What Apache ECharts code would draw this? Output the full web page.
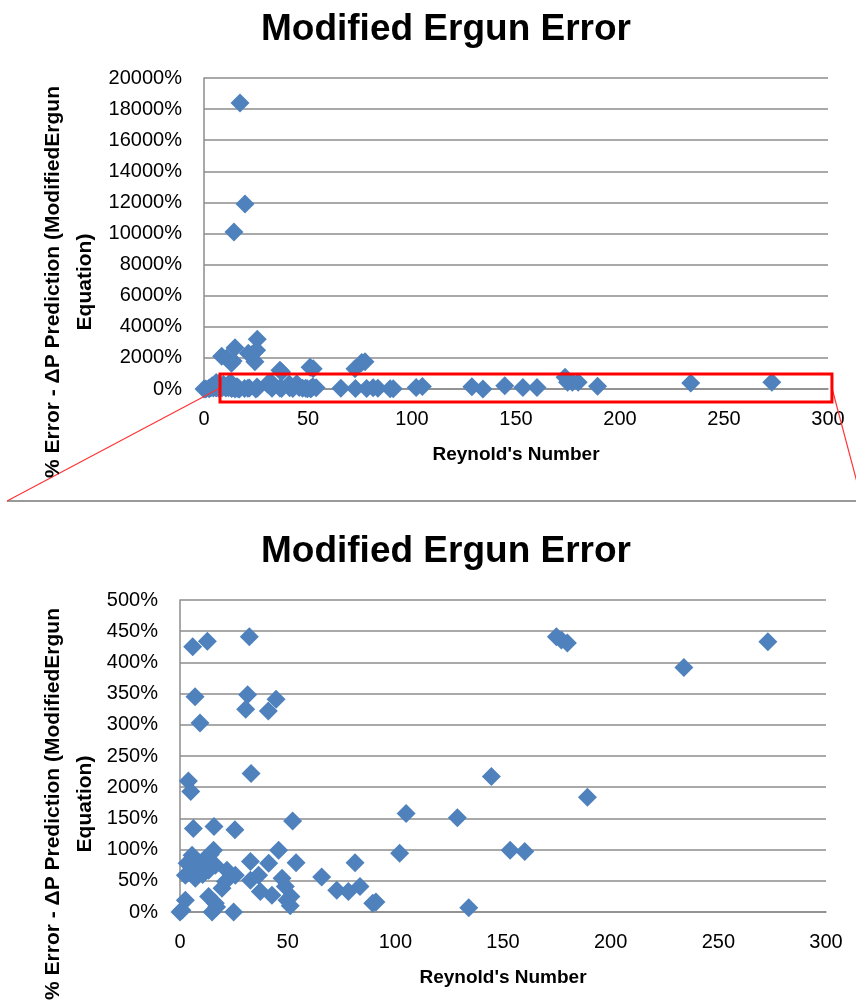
<!DOCTYPE html>
<html>
<head>
<meta charset="utf-8">
<script src="https://cdn.jsdelivr.net/npm/echarts@6/dist/echarts.min.js"></script>
<style>
html,body{margin:0;padding:0;background:#fff;}
#main{width:856px;height:1002px;}
</style>
</head>
<body>
<div id="main"></div>
<script>
// ---- data ----
const chartTitle = "Modified Ergun Error";
const xAxisTitle = "Reynold's Number";
const yAxisTitle = "% Error - \u0394P Prediction (ModifiedErgun\nEquation)";
const xTicks = [0, 50, 100, 150, 200, 250, 300];
const yTicksFull = [0, 2000, 4000, 6000, 8000, 10000, 12000, 14000, 16000, 18000, 20000];
const yTicksZoom = [0, 50, 100, 150, 200, 250, 300, 350, 400, 450, 500];

const reynolds = [
  17.3, 19.7, 14.4, 25.6, 14.9, 8.5, 10.9, 21.3, 25.3, 22.9, 13.2, 14.0, 24.5, 36.5, 37.3, 51.0, 52.5, 72.6, 75.8, 77.4, 173.6,
  5.9, 12.7, 32.2, 7.0, 31.4, 30.5, 44.6, 41.0, 9.3, 33.0, 3.9, 5.0,
  105, 52.3, 6.2, 15.8, 25.5, 102,
  174.8, 177.1, 179.9, 273, 234, 144.6, 189.2, 128.8, 153.3, 160.1, 134.1,
  15.6, 5.6, 3.3, 11.8, 2.5, 7.1, 13.3, 16.4, 8.7, 21.8,
  25.7, 21.1, 19.5, 32.7, 41.2, 45.8, 53.9, 32.7, 36.5, 37.3,
  42.7, 47.4, 48.9, 49.7, 51.2, 51.5, 2.5, 0.9, 0, 13.3,
  16.4, 14.9, 17.0, 24.9, 81.3, 65.8, 72.8, 78.2, 83.6, 89.5,
  91.0, 4.5, 10.5, 14.0, 6.0
];
const errorPct = [
  18400, 11900, 10100, 3200, 2650, 2100, 2000, 2300, 2500, 2200, 1650, 1800, 1750, 1200, 1100, 1400, 1300, 1300, 1700, 1750, 750,
  425, 434, 441, 345, 348, 325, 341, 322, 303, 222, 210, 193,
  158, 146, 134, 137, 132, 94,
  441, 436, 431, 433, 392, 217, 184, 151, 99, 97, 7,
  99, 91, 78, 86, 59, 54, 67, 75, 73, 67,
  59, 49, 38, 81, 78, 99, 79, 51, 59, 33,
  27, 54, 41, 19, 10, 25, 19, 3, 0, 25,
  14, 0, 8, 0, 79, 56, 35, 33, 41, 14,
  16, 65, 60, 92, 83
];
// zoom box drawn on the upper chart (data units)
const zoomBoxX = [7.7, 301.9];
const zoomBoxY = [-840, 965];

// ---- build ----
const points = reynolds.map((r, i) => [r, errorPct[i]]);
const zoomMax = yTicksZoom[yTicksZoom.length - 1];
const zoomPoints = points.filter(p => p[1] <= zoomMax);

const FONT = "Liberation Sans";
const gridColor = '#8c8c8c';
const blue = '#4F81BD';

function xAxisDef(gi, gap) {
  return {
    type: 'value', gridIndex: gi,
    min: xTicks[0], max: xTicks[xTicks.length - 1], interval: xTicks[1] - xTicks[0],
    name: xAxisTitle, nameLocation: 'middle', nameGap: gap,
    nameTextStyle: { fontFamily: FONT, fontWeight: 'bold', fontSize: 19, color: '#000' },
    axisLine: { show: true, lineStyle: { color: gridColor, width: 1.5 } },
    axisTick: { show: false },
    splitLine: { show: false },
    axisLabel: { margin: 20, fontFamily: FONT, fontSize: 20, color: '#000' }
  };
}
function yAxisDef(gi, ticks) {
  return {
    type: 'value', gridIndex: gi,
    min: ticks[0], max: ticks[ticks.length - 1], interval: ticks[1] - ticks[0],
    axisLine: { show: true, lineStyle: { color: gridColor, width: 1.5 } },
    axisTick: { show: false },
    splitLine: { show: true, lineStyle: { color: gridColor, width: 1.5 } },
    axisLabel: { margin: 22, fontFamily: FONT, fontSize: 20, color: '#000', formatter: v => String(v) + '%' }
  };
}

const chart = echarts.init(document.getElementById('main'), null, { renderer: 'canvas' });
const option = {
  animation: false,
  backgroundColor: '#fff',
  title: [
    { text: chartTitle, left: 441, top: 6, textAlign: 'center',
      textStyle: { fontFamily: FONT, fontWeight: 'bold', fontSize: 37, color: '#000' } },
    { text: chartTitle, left: 441, top: 528, textAlign: 'center',
      textStyle: { fontFamily: FONT, fontWeight: 'bold', fontSize: 37, color: '#000' } }
  ],
  grid: [
    { left: 204, right: 28, top: 78, bottom: 613 },
    { left: 180, right: 30, top: 600, bottom: 90 }
  ],
  xAxis: [xAxisDef(0, 56), xAxisDef(1, 56)],
  yAxis: [yAxisDef(0, yTicksFull), yAxisDef(1, yTicksZoom)],
  series: [
    { type: 'scatter', xAxisIndex: 0, yAxisIndex: 0, data: points, symbol: 'diamond', symbolSize: 19,
      itemStyle: { color: blue, opacity: 1 }, clip: false },
    { type: 'scatter', xAxisIndex: 1, yAxisIndex: 1, data: zoomPoints, symbol: 'diamond', symbolSize: 19,
      itemStyle: { color: blue, opacity: 1 }, clip: false }
  ]
};
chart.setOption(option);

// decorations: zoom box, connector lines, separator, rotated y titles
const p0 = chart.convertToPixel({ gridIndex: 0 }, [zoomBoxX[0], zoomBoxY[1]]);
const p1 = chart.convertToPixel({ gridIndex: 0 }, [zoomBoxX[1], zoomBoxY[0]]);
const midY = (p0[1] + p1[1]) / 2;
const sepY = 501;
chart.setOption({
  graphic: [
    { type: 'line', shape: { x1: 7, y1: sepY, x2: 856, y2: sepY }, style: { stroke: '#9a9a9a', lineWidth: 2 }, z: 1 },
    { type: 'line', shape: { x1: p0[0], y1: midY, x2: 7, y2: sepY }, style: { stroke: '#ff3333', lineWidth: 1.2 }, z: 10 },
    { type: 'line', shape: { x1: p1[0], y1: midY, x2: 858, y2: 486 }, style: { stroke: '#ff3333', lineWidth: 1.2 }, z: 10 },
    { type: 'rect', shape: { x: p0[0], y: p0[1], width: p1[0] - p0[0], height: p1[1] - p0[1] },
      style: { fill: null, stroke: '#ff0000', lineWidth: 3 }, z: 10 },
    { type: 'text', x: 69, y: 282, rotation: Math.PI / 2,
      style: { text: yAxisTitle, align: 'center', verticalAlign: 'middle', lineHeight: 32,
               font: 'bold 21px "' + FONT + '"', fill: '#000' }, z: 10 },
    { type: 'text', x: 69, y: 804, rotation: Math.PI / 2,
      style: { text: yAxisTitle, align: 'center', verticalAlign: 'middle', lineHeight: 32,
               font: 'bold 21px "' + FONT + '"', fill: '#000' }, z: 10 }
  ]
});
</script>
</body>
</html>
